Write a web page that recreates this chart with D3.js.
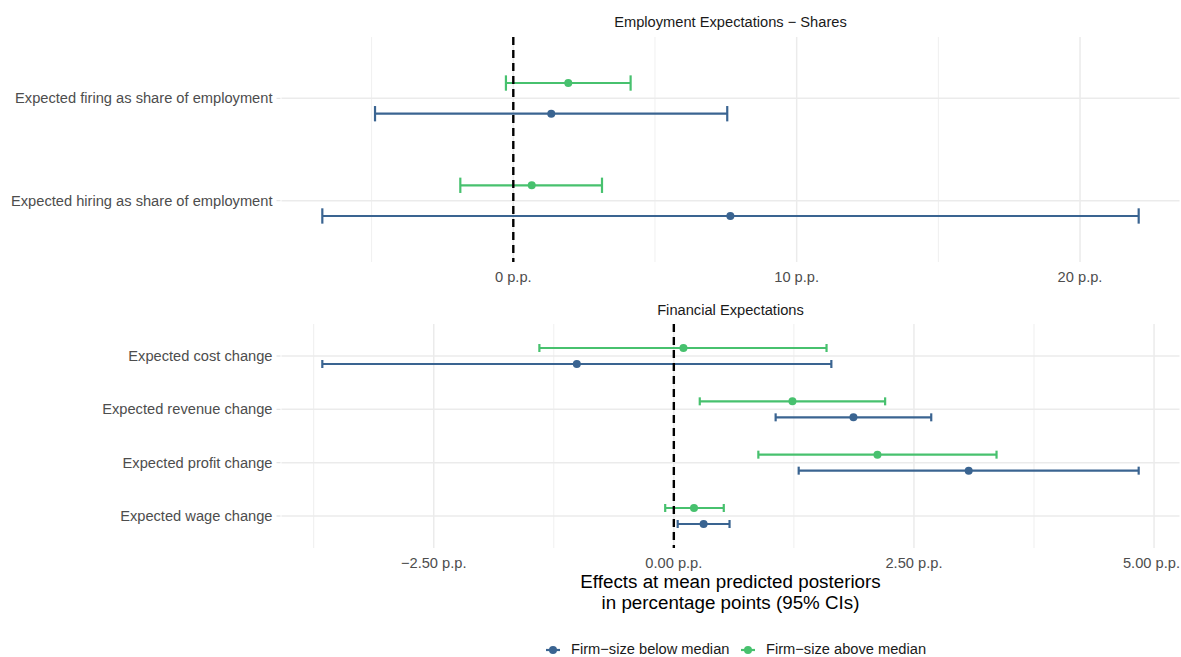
<!DOCTYPE html>
<html>
<head>
<meta charset="utf-8">
<script src="https://cdn.jsdelivr.net/npm/d3@7"></script>
<style>
  html, body { margin: 0; padding: 0; background: #fff; }
  svg { display: block; font-family: "Liberation Sans", Arial, Helvetica, sans-serif; }
</style>
</head>
<body>
<svg id="chart" width="1181" height="657"></svg>
<script>
// Employment panel: effects on expected hiring/firing shares
const empCategories = ["Expected firing as share of employment", "Expected hiring as share of employment"];
const empBelowEst = [1.34, 7.66];
const empBelowLo  = [-4.88, -6.74];
const empBelowHi  = [7.55, 22.07];
const empAboveEst = [1.94, 0.65];
const empAboveLo  = [-0.26, -1.87];
const empAboveHi  = [4.14, 3.13];
const empTicks = [0, 10, 20];
const empTickLabels = ["0 p.p.", "10 p.p.", "20 p.p."];

// Financial panel: effects on expected cost, revenue, profit and wage changes
const finCategories = ["Expected cost change", "Expected revenue change", "Expected profit change", "Expected wage change"];
const finBelowEst = [-1.01, 1.87, 3.07, 0.31];
const finBelowLo  = [-3.66, 1.06, 1.30, 0.04];
const finBelowHi  = [1.64, 2.68, 4.84, 0.58];
const finAboveEst = [0.10, 1.235, 2.12, 0.21];
const finAboveLo  = [-1.40, 0.27, 0.88, -0.09];
const finAboveHi  = [1.59, 2.20, 3.36, 0.52];
const finTicks = [-2.5, 0, 2.5, 5];
const finTickLabels = ["\u22122.50 p.p.", "0.00 p.p.", "2.50 p.p.", "5.00 p.p."];

const groupNames = ["Firm\u2212size below median", "Firm\u2212size above median"];
const groupColors = ["#3A6491", "#47C16E"];

const svg = d3.select("#chart");
const width = 1181;
const panelLeft = 281.5, panelRight = 1179.5;
const baseFont = 14.67;

function drawPanel(opts) {
  const { title, categories, groups, ticks, tickLabels, top, bottom, titleY } = opts;
  const g = svg.append("g");

  // x domain: data extent (incl. zero reference) with 5% expansion
  const allVals = [0];
  groups.forEach(gr => { allVals.push(...gr.lo, ...gr.hi); });
  const [mn, mx] = d3.extent(allVals);
  const pad = (mx - mn) * 0.05;
  const x = d3.scaleLinear().domain([mn - pad, mx + pad]).range([panelLeft, panelRight]);
  const y = d3.scalePoint().domain(categories).range([top, bottom]).padding(0.6);
  const step = y.step();

  // minor gridlines at midpoints between major breaks
  const tStep = ticks[1] - ticks[0];
  const minor = [];
  for (let v = ticks[0] - tStep / 2; v <= x.domain()[1]; v += tStep) {
    if (v >= x.domain()[0]) minor.push(v);
  }
  g.selectAll(".minor").data(minor).join("line")
    .attr("x1", d => x(d)).attr("x2", d => x(d))
    .attr("y1", top).attr("y2", bottom)
    .attr("stroke", "#ebebeb").attr("stroke-width", 0.8);
  g.selectAll(".major").data(ticks).join("line")
    .attr("x1", d => x(d)).attr("x2", d => x(d))
    .attr("y1", top).attr("y2", bottom)
    .attr("stroke", "#ebebeb").attr("stroke-width", 1.5);
  g.selectAll(".hgrid").data(categories).join("line")
    .attr("x1", panelLeft).attr("x2", panelRight)
    .attr("y1", d => y(d)).attr("y2", d => y(d))
    .attr("stroke", "#ebebeb").attr("stroke-width", 1.5);

  // y-axis ticks and labels
  g.selectAll(".ytick").data(categories).join("line")
    .attr("x1", panelLeft - 5).attr("x2", panelLeft - 1)
    .attr("y1", d => y(d)).attr("y2", d => y(d))
    .attr("stroke", "#e3e3e3").attr("stroke-width", 1.2);
  g.selectAll(".ylab").data(categories).join("text")
    .attr("x", panelLeft - 9).attr("y", d => y(d))
    .attr("dy", "0.35em").attr("text-anchor", "end")
    .attr("font-size", baseFont).attr("fill", "#4d4d4d")
    .text(d => d);

  // x-axis tick labels (kept inside the drawing area)
  g.selectAll(".xlab").data(ticks).join("text")
    .attr("x", d => x(d)).attr("y", bottom + 20)
    .attr("text-anchor", "middle")
    .attr("font-size", baseFont).attr("fill", "#4d4d4d")
    .text((d, i) => tickLabels[i])
    .each(function () {
      const bb = this.getBBox();
      const over = bb.x + bb.width - (width - 1);
      if (over > 0) d3.select(this).attr("x", +d3.select(this).attr("x") - over);
    });

  // panel title
  g.append("text")
    .attr("x", (panelLeft + panelRight) / 2).attr("y", titleY)
    .attr("text-anchor", "middle").attr("font-size", baseFont).attr("fill", "#1a1a1a")
    .text(title);

  // error bars and point estimates, dodged per group
  const offsets = [0.15, -0.15];
  const capHalf = 0.075 * step;
  groups.forEach((gr, gi) => {
    const col = groupColors[gi];
    const rows = categories.map((c, i) => ({
      yy: y(c) + offsets[gi] * step, est: gr.est[i], lo: gr.lo[i], hi: gr.hi[i]
    }));
    const eg = g.append("g");
    eg.selectAll(".bar").data(rows).join("line")
      .attr("x1", d => x(d.lo)).attr("x2", d => x(d.hi))
      .attr("y1", d => d.yy).attr("y2", d => d.yy)
      .attr("stroke", col).attr("stroke-width", 2.2);
    eg.selectAll(".capL").data(rows).join("line")
      .attr("x1", d => x(d.lo)).attr("x2", d => x(d.lo))
      .attr("y1", d => d.yy - capHalf).attr("y2", d => d.yy + capHalf)
      .attr("stroke", col).attr("stroke-width", 2.2);
    eg.selectAll(".capR").data(rows).join("line")
      .attr("x1", d => x(d.hi)).attr("x2", d => x(d.hi))
      .attr("y1", d => d.yy - capHalf).attr("y2", d => d.yy + capHalf)
      .attr("stroke", col).attr("stroke-width", 2.2);
    eg.selectAll(".pt").data(rows).join("circle")
      .attr("cx", d => x(d.est)).attr("cy", d => d.yy)
      .attr("r", 4).attr("fill", col);
  });

  // zero reference line
  g.append("line")
    .attr("x1", x(0)).attr("x2", x(0))
    .attr("y1", top).attr("y2", bottom)
    .attr("stroke", "#000").attr("stroke-width", 2.4)
    .attr("stroke-dasharray", "8,5");
}

// groups listed as [below, above]
drawPanel({
  title: "Employment Expectations \u2212 Shares",
  categories: empCategories,
  groups: [
    { est: empBelowEst, lo: empBelowLo, hi: empBelowHi },
    { est: empAboveEst, lo: empAboveLo, hi: empAboveHi }
  ],
  ticks: empTicks, tickLabels: empTickLabels,
  top: 37, bottom: 262, titleY: 27
});

drawPanel({
  title: "Financial Expectations",
  categories: finCategories,
  groups: [
    { est: finBelowEst, lo: finBelowLo, hi: finBelowHi },
    { est: finAboveEst, lo: finAboveLo, hi: finAboveHi }
  ],
  ticks: finTicks, tickLabels: finTickLabels,
  top: 324, bottom: 548, titleY: 315
});

// shared x-axis title
const axTitle = svg.append("text")
  .attr("text-anchor", "middle").attr("font-size", 18.8).attr("fill", "#000");
axTitle.append("tspan").attr("x", 730.5).attr("y", 588).text("Effects at mean predicted posteriors");
axTitle.append("tspan").attr("x", 730.5).attr("y", 609).text("in percentage points (95% CIs)");

// legend
const legendItems = [
  { name: groupNames[0], color: groupColors[0], cx: 553 },
  { name: groupNames[1], color: groupColors[1], cx: 748 }
];
const lg = svg.append("g");
legendItems.forEach(it => {
  lg.append("line")
    .attr("x1", it.cx - 7).attr("x2", it.cx + 7)
    .attr("y1", 650).attr("y2", 650)
    .attr("stroke", it.color).attr("stroke-width", 2.2);
  lg.append("circle").attr("cx", it.cx).attr("cy", 650).attr("r", 4).attr("fill", it.color);
  lg.append("text")
    .attr("x", it.cx + 18).attr("y", 654)
    .attr("font-size", baseFont).attr("fill", "#1a1a1a")
    .text(it.name);
});
</script>
</body>
</html>
